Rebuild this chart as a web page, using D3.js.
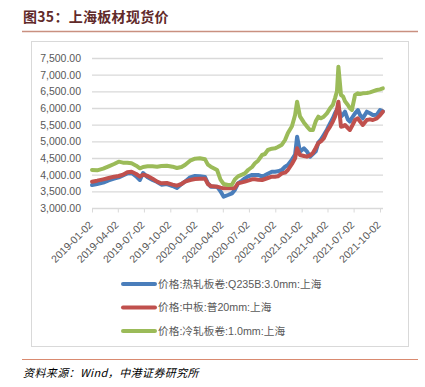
<!DOCTYPE html>
<html>
<head>
<meta charset="utf-8">
<script src="https://cdn.jsdelivr.net/npm/d3@7"></script>
<style>
  body { margin: 0; background: #fff; }
  svg { display: block; }
</style>
</head>
<body>
<svg id="chart" width="425" height="387"></svg>
<script>
// 日期
var dates = [
  "2019-01-02","2019-01-20","2019-02-10","2019-03-01","2019-03-20","2019-04-05","2019-04-20","2019-05-05",
  "2019-05-20","2019-06-05","2019-06-18","2019-06-29","2019-07-15","2019-08-01","2019-08-17","2019-09-01",
  "2019-09-20","2019-10-10","2019-10-25","2019-11-10","2019-11-22","2019-12-10","2019-12-27","2020-01-13",
  "2020-01-31","2020-02-10","2020-02-20","2020-03-13","2020-03-25","2020-04-05","2020-04-20","2020-05-04",
  "2020-05-14","2020-05-25","2020-06-08","2020-06-18","2020-06-29","2020-07-13","2020-07-23","2020-08-03",
  "2020-08-17","2020-08-27","2020-09-06","2020-09-20","2020-10-01","2020-10-11","2020-10-25","2020-11-05",
  "2020-11-15","2020-11-29","2020-12-10","2020-12-17","2020-12-27","2021-01-10","2021-01-20","2021-01-31",
  "2021-02-10","2021-02-20","2021-03-01","2021-03-10","2021-03-20","2021-03-31","2021-04-11","2021-04-21",
  "2021-04-28","2021-05-05","2021-05-10","2021-05-19","2021-05-26","2021-06-02","2021-06-12","2021-06-19",
  "2021-06-26","2021-07-07","2021-07-17","2021-07-24","2021-08-03","2021-08-17","2021-08-28","2021-09-07",
  "2021-09-21","2021-10-02","2021-10-12"
];

// 价格:热轧板卷:Q235B:3.0mm:上海
var hotRolled = [
  3690,3720,3760,3830,3880,3920,3980,4040, 4050,3950,3840,4050,3920,3840,3780,3700,
  3720,3660,3600,3720,3790,3920,3960,3950, 3930,3740,3640,3640,3500,3340,3390,3440,
  3540,3740,3820,3890,3950,3990,3990,3990, 3950,3980,4030,4090,4090,4100,4140,4240,
  4290,4450,4600,5140,4690,4790,4700,4540, 4620,4700,4960,5050,5190,5350,5540,5700,
  5840,5950,6000,5740,5800,5890,5650,5590, 5700,5840,5940,5800,5690,5890,5840,5790,
  5800,5940,5900
];

// 价格:中板:普20mm:上海
var plate = [
  3790,3820,3860,3900,3940,3960,4000,4070, 4090,4020,3940,4000,3960,3880,3790,3740,
  3750,3700,3670,3720,3790,3840,3870,3880, 3880,3720,3660,3640,3610,3590,3590,3590,
  3600,3740,3770,3790,3820,3860,3860,3850, 3840,3870,3900,3940,3940,3950,4040,4060,
  4140,4320,4490,4790,4590,4560,4540,4580, 4650,4800,4950,5000,5090,5300,5440,5600,
  5740,5950,6190,5440,5450,5490,5400,5340, 5450,5640,5690,5600,5490,5640,5660,5640,
  5690,5780,5890
];

// 价格:冷轧板卷:1.0mm:上海
var coldRolled = [
  4140,4130,4180,4250,4320,4390,4360,4360, 4340,4270,4190,4230,4250,4250,4240,4260,
  4270,4240,4200,4230,4290,4420,4480,4490, 4460,4300,4240,4140,3850,3720,3690,3700,
  3860,3950,4000,4040,4140,4230,4340,4420, 4590,4620,4740,4780,4790,4830,4900,5040,
  5250,5450,5790,6190,5750,5560,5450,5340, 5340,5600,5740,5690,5740,5840,5990,6100,
  6290,6500,7240,6390,6350,6200,6090,5990, 5940,6390,6440,6420,6440,6450,6470,6500,
  6540,6560,6590
];

var seriesNames = ["价格:热轧板卷:Q235B:3.0mm:上海", "价格:中板:普20mm:上海", "价格:冷轧板卷:1.0mm:上海"];
var seriesColors = ["#4a7ebb", "#c0504d", "#9bbb59"];
var yTicks = [3000, 3500, 4000, 4500, 5000, 5500, 6000, 6500, 7000, 7500];
var xTicks = ["2019-01-02","2019-04-02","2019-07-02","2019-10-02","2020-01-02","2020-04-02",
              "2020-07-02","2020-10-02","2021-01-02","2021-04-02","2021-07-02","2021-10-02"];

var parseDate = d3.timeParse("%Y-%m-%d"),
    fmtDate = d3.timeFormat("%Y-%m-%d");

var svg = d3.select("#chart");
var font = "'Liberation Sans', 'Noto Sans CJK SC', sans-serif";

// 标题
svg.append("text")
    .attr("x", 23)
    .attr("y", 22)
    .attr("font-family", "'Noto Sans CJK SC', sans-serif")
    .attr("font-size", 14)
    .attr("font-weight", "bold")
    .attr("letter-spacing", 0.3)
    .attr("fill", "#612a2a")
    .text("图35：上海板材现货价");

svg.append("line")
    .attr("x1", 22).attr("x2", 418)
    .attr("y1", 31.5).attr("y2", 31.5)
    .attr("stroke", "#c99080")
    .attr("stroke-width", 1.5);

// chart frame
svg.append("rect")
    .attr("x", 31.5).attr("y", 41.5)
    .attr("width", 377).attr("height", 305)
    .attr("fill", "none")
    .attr("stroke", "#d9d9d9");

var x = d3.scaleTime()
    .domain([parseDate("2019-01-02"), parseDate("2021-10-02")])
    .range([92, 380]);

var y = d3.scaleLinear()
    .domain([3000, 7500])
    .range([208, 58]);

var gridRight = 383;

// gridlines + y labels
var yAxis = svg.append("g")
    .attr("transform", "translate(92,0)")
    .call(d3.axisLeft(y).tickValues(yTicks).tickSize(-(gridRight - 92)).tickPadding(11)
        .tickFormat(d3.format(",.2f")));
yAxis.select(".domain").remove();
yAxis.selectAll(".tick line").attr("stroke", "#d9d9d9").attr("stroke-width", 1.3);
yAxis.selectAll(".tick text")
    .attr("font-family", font)
    .attr("font-size", 10.5)
    .attr("fill", "#595959");

// x axis
var xAxis = svg.append("g")
    .attr("transform", "translate(0,208.5)")
    .call(d3.axisBottom(x).tickValues(xTicks.map(parseDate)).tickSize(4).tickSizeOuter(0)
        .tickFormat(fmtDate));
xAxis.select(".domain").attr("stroke", "#d9d9d9").attr("d", "M92,0H" + gridRight);
xAxis.selectAll(".tick line").attr("stroke", "#d9d9d9");
xAxis.selectAll(".tick text")
    .attr("font-family", font)
    .attr("font-size", 10.5)
    .attr("fill", "#595959")
    .attr("text-anchor", "end")
    .attr("dy", null)
    .attr("transform", "translate(1,17) rotate(-45)")
    .attr("y", 0)
    .attr("x", 0);

// lines
var series = [hotRolled, plate, coldRolled].map(function (vals, i) {
    return {
        name: seriesNames[i],
        color: seriesColors[i],
        values: vals.map(function (v, j) { return { date: parseDate(dates[j]), value: v }; })
    };
});

var line = d3.line()
    .x(function (d) { return x(d.date); })
    .y(function (d) { return y(d.value); });

svg.append("g")
    .selectAll("path")
    .data(series)
    .enter().append("path")
    .attr("fill", "none")
    .attr("stroke", function (d) { return d.color; })
    .attr("stroke-width", 4)
    .attr("stroke-linejoin", "round")
    .attr("stroke-linecap", "round")
    .attr("d", function (d) { return line(d.values); });

// legend
var legend = svg.append("g")
    .selectAll("g")
    .data(series)
    .enter().append("g")
    .attr("transform", function (d, i) { return "translate(0," + (284 + i * 23.5) + ")"; });

legend.append("line")
    .attr("x1", 123).attr("x2", 155)
    .attr("stroke", function (d) { return d.color; })
    .attr("stroke-width", 4)
    .attr("stroke-linecap", "round");

legend.append("text")
    .attr("x", 158)
    .attr("dy", "0.35em")
    .attr("font-family", font)
    .attr("font-size", 10.7)
    .attr("fill", "#595959")
    .text(function (d) { return d.name; });

// 资料来源
svg.append("line")
    .attr("x1", 22).attr("x2", 418)
    .attr("y1", 359.5).attr("y2", 359.5)
    .attr("stroke", "#d98a70")
    .attr("stroke-width", 1.2);

svg.append("text")
    .attr("x", 23)
    .attr("y", 377)
    .attr("font-family", "'Noto Sans CJK SC', sans-serif")
    .attr("font-size", 11)
    .attr("font-style", "italic")
    .attr("letter-spacing", 0.4)
    .attr("fill", "#000")
    .text("资料来源：Wind，中港证券研究所");
</script>
</body>
</html>
